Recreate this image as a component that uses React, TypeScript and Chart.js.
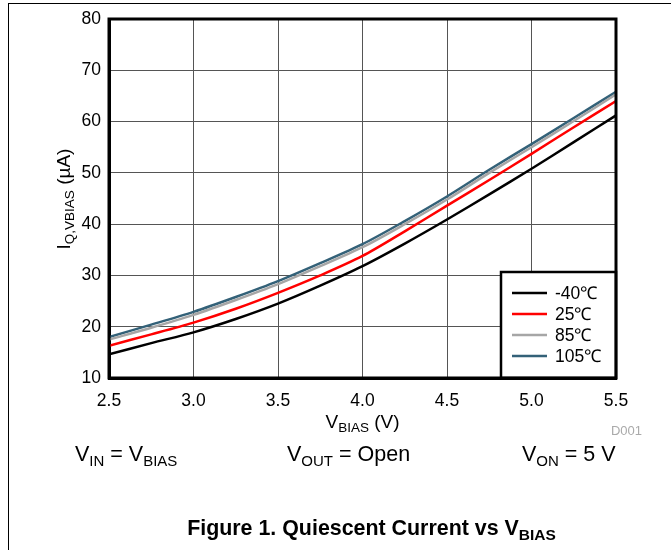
import React, { useEffect, useRef } from "react";
import { Chart, registerables } from "chart.js";

Chart.register(...registerables);

const vbias = [2.5, 2.75, 3.0, 3.25, 3.5, 3.75, 4.0, 4.25, 4.5, 4.75, 5.0, 5.25, 5.5];
const iqM40 = [14.6, 16.8, 18.9, 21.5, 24.5, 28.0, 31.8, 36.2, 40.9, 45.8, 50.8, 56.0, 61.2];
const iq25 = [16.3, 18.5, 20.8, 23.5, 26.6, 30.0, 33.8, 38.6, 43.6, 48.6, 53.7, 58.9, 64.0];
const iq85 = [17.5, 19.8, 22.3, 25.2, 28.3, 31.8, 35.5, 40.0, 44.8, 50.0, 55.0, 60.1, 65.3];
const iq105 = [18.0, 20.4, 22.9, 25.8, 28.9, 32.4, 36.1, 40.6, 45.4, 50.6, 55.6, 60.7, 65.8];
const seriesLabels = ["-40℃", "25℃", "85℃", "105℃"];
const seriesColors = ["#000000", "#ff0000", "#a6a6a6", "#336178"];
const xTicks = [2.5, 3.0, 3.5, 4.0, 4.5, 5.0, 5.5];
const yTicks = [10, 20, 30, 40, 50, 60, 70, 80];

const FONT = "'Liberation Sans', Arial, sans-serif";

const overlayPlugin = {
  id: "overlay",
  afterDraw(chart: any) {
    const ctx = chart.ctx;
    const area = chart.chartArea;
    ctx.save();
    // Y axis title with subscript
    ctx.translate(63, 199);
    ctx.rotate(-Math.PI / 2);
    ctx.fillStyle = "#000";
    ctx.textBaseline = "alphabetic";
    const big = `19px ${FONT}`;
    const small = `13.5px ${FONT}`;
    const parts: [string, string, number][] = [
      ["I", big, 0],
      ["Q,VBIAS", small, 4],
      [" (µA)", big, 0],
    ];
    let total = 0;
    for (const [t, f] of parts) {
      ctx.font = f;
      total += ctx.measureText(t).width;
    }
    let x = -total / 2;
    for (const [t, f, dy] of parts) {
      ctx.font = f;
      ctx.fillText(t, x, 7 + dy);
      x += ctx.measureText(t).width;
    }
    ctx.restore();

    // X axis title
    ctx.save();
    ctx.fillStyle = "#000";
    const xparts: [string, string, number][] = [
      ["V", big, 0],
      ["BIAS", small, 4],
      [" (V)", big, 0],
    ];
    total = 0;
    for (const [t, f] of xparts) {
      ctx.font = f;
      total += ctx.measureText(t).width;
    }
    x = (area.left + area.right) / 2 - total / 2;
    for (const [t, f, dy] of xparts) {
      ctx.font = f;
      ctx.fillText(t, x, 428 + dy);
      x += ctx.measureText(t).width;
    }
    // D001
    ctx.font = `13px ${FONT}`;
    ctx.fillStyle = "#aaaaaa";
    ctx.textAlign = "right";
    ctx.fillText("D001", 642, 435);
    ctx.restore();

    // Legend box
    ctx.save();
    const lx = 501;
    const ly = 272;
    const lw = area.right - lx;
    const lh = area.bottom - ly;
    ctx.fillStyle = "#fff";
    ctx.fillRect(lx, ly, lw, lh);
    ctx.strokeStyle = "#000";
    ctx.lineWidth = 2.5;
    ctx.strokeRect(lx, ly, lw, lh);
    ctx.font = `17.5px ${FONT}`;
    ctx.textBaseline = "middle";
    chart.data.datasets.forEach((ds: any, i: number) => {
      const yy = ly + 21 + i * 21;
      ctx.strokeStyle = ds.borderColor;
      ctx.lineWidth = 2.5;
      ctx.beginPath();
      ctx.moveTo(lx + 11, yy);
      ctx.lineTo(lx + 46, yy);
      ctx.stroke();
      ctx.fillStyle = "#000";
      ctx.fillText(ds.label, lx + 54, yy + 1);
    });
    ctx.restore();
  },
};

function ChartCanvas() {
  const ref = useRef<HTMLCanvasElement | null>(null);
  useEffect(() => {
    document.body.style.margin = "0";
    const datasets = [iqM40, iq25, iq85, iq105].map((arr, i) => ({
      label: seriesLabels[i],
      data: vbias.map((v, j) => ({ x: v, y: arr[j] })),
      borderColor: seriesColors[i],
      backgroundColor: seriesColors[i],
      borderWidth: 2.5,
      pointRadius: 0,
      tension: 0.3,
      fill: false,
    }));
    const chart = new Chart(ref.current as HTMLCanvasElement, {
      type: "line",
      data: { datasets },
      options: {
        animation: false,
        responsive: false,
        devicePixelRatio: 1,
        layout: { padding: { top: 19, right: 55, left: 0, bottom: 0 } },
        plugins: { legend: { display: false }, tooltip: { enabled: false } },
        scales: {
          x: {
            type: "linear",
            min: 2.5,
            max: 5.5,
            afterFit: (s: any) => { s.height = 172; },
            afterBuildTicks: (s: any) => { s.ticks = xTicks.map((v) => ({ value: v })); },
            grid: { color: "#555", lineWidth: 1, drawTicks: false },
            border: { color: "#000", width: 3 },
            ticks: {
              padding: 13,
              color: "#000",
              font: { family: FONT, size: 17.5 },
              callback: (v: any) => Number(v).toFixed(1),
            },
          },
          y: {
            type: "linear",
            min: 10,
            max: 80,
            afterFit: (s: any) => { s.width = 109; },
            afterBuildTicks: (s: any) => { s.ticks = yTicks.map((v) => ({ value: v })); },
            grid: { color: "#555", lineWidth: 1, drawTicks: false },
            border: { color: "#000", width: 3 },
            ticks: {
              padding: 8,
              color: "#000",
              font: { family: FONT, size: 17.5 },
            },
          },
        },
      },
      plugins: [
        overlayPlugin,
        {
          id: "frame",
          afterDraw(c: any) {
            const { left, top, right, bottom } = c.chartArea;
            const ctx = c.ctx;
            ctx.save();
            ctx.strokeStyle = "#000";
            ctx.lineWidth = 3;
            ctx.strokeRect(left, top, right - left, bottom - top);
            ctx.restore();
          },
        },
      ],
    } as any);
    return () => chart.destroy();
  }, []);
  return <canvas ref={ref} width={671} height={550} style={{ position: "absolute", left: 0, top: 0 }} />;
}

const subStyle: React.CSSProperties = { fontSize: 15, verticalAlign: "-5px" };

export default function App() {
  const textStyle: React.CSSProperties = {
    position: "absolute",
    top: 440,
    fontFamily: FONT,
    fontSize: 21.5,
    color: "#000",
    whiteSpace: "nowrap",
    lineHeight: "28px",
  };
  return (
    <div style={{ position: "relative", width: 671, height: 550, overflow: "hidden", background: "#fff" }}>
      <div style={{ position: "absolute", left: 8, top: 3, width: 700, height: 600, borderTop: "1px solid #000", borderLeft: "1px solid #000" }} />
      <ChartCanvas />
      <div style={{ ...textStyle, left: 75 }}>
        V<span style={subStyle}>IN</span> = V<span style={subStyle}>BIAS</span>
      </div>
      <div style={{ ...textStyle, left: 287 }}>
        V<span style={subStyle}>OUT</span> = Open
      </div>
      <div style={{ ...textStyle, left: 522 }}>
        V<span style={subStyle}>ON</span> = 5 V
      </div>
      <div
        style={{
          position: "absolute",
          left: 0,
          width: 743,
          top: 515,
          textAlign: "center",
          fontFamily: FONT,
          fontWeight: "bold",
          fontSize: 21.4,
          lineHeight: "26px",
          color: "#000",
          whiteSpace: "nowrap",
        }}
      >
        Figure 1. Quiescent Current vs V<span style={{ fontSize: 15.5, verticalAlign: "-5px" }}>BIAS</span>
      </div>
    </div>
  );
}
